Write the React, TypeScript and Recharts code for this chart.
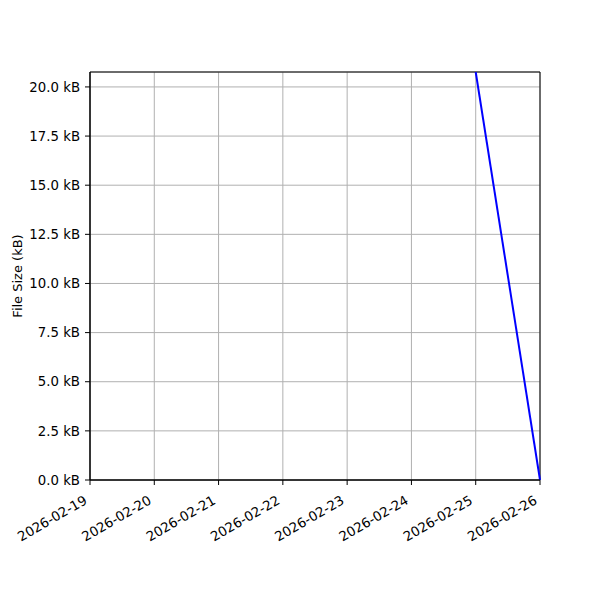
import React from "react";
import { LineChart, Line, XAxis, YAxis, CartesianGrid, ReferenceArea } from "recharts";

const dates = ["2026-02-25", "2026-02-26"];
const sizesKb = [20.76, 0];
const tickDates = [
  "2026-02-19",
  "2026-02-20",
  "2026-02-21",
  "2026-02-22",
  "2026-02-23",
  "2026-02-24",
  "2026-02-25",
  "2026-02-26",
];
const yTicks = [0, 2.5, 5, 7.5, 10, 12.5, 15, 17.5, 20];
const yMax = 20.76;

const toTs = (d: string) => Date.parse(d + "T00:00:00Z");
const data = dates.map((d, i) => ({ t: toTs(d), size: sizesKb[i] }));
const xTicks = tickDates.map(toTs);

const font = "DejaVu Sans, sans-serif";

function DateTick(props: any) {
  const { x, y, payload } = props;
  const label = new Date(payload.value).toISOString().slice(0, 10);
  const ax = x - 2;
  const ay = y + 16;
  return (
    <text
      x={ax}
      y={ay}
      textAnchor="end"
      fontSize={13.3}
      fontFamily={font}
      fill="#000"
      transform={`rotate(-30 ${ax} ${ay})`}
    >
      {label}
    </text>
  );
}

export default function App() {
  return (
    <div style={{ position: "absolute", left: 0, top: 0, width: 600, height: 600, background: "#fff" }}>
      <LineChart width={600} height={600} data={data} margin={{ top: 72, right: 60, bottom: 0, left: 0 }}>
        <CartesianGrid stroke="#b0b0b0" strokeWidth={1} />
        <XAxis
          dataKey="t"
          type="number"
          domain={[xTicks[0], xTicks[xTicks.length - 1]]}
          ticks={xTicks}
          tick={<DateTick />}
          tickLine={{ stroke: "#000" }}
          tickSize={5}
          axisLine={{ stroke: "#000" }}
          interval={0}
          height={120}
        />
        <YAxis
          type="number"
          domain={[0, yMax]}
          ticks={yTicks}
          allowDataOverflow
          width={90}
          tickSize={5}
          tickMargin={5}
          tickLine={{ stroke: "#000" }}
          axisLine={{ stroke: "#000" }}
          tick={{ fontSize: 13.3, fontFamily: font, fill: "#000" }}
          tickFormatter={(v: number) => `${v.toFixed(1)} kB`}
          label={{
            value: "File Size (kB)",
            angle: -90,
            position: "center",
            dx: -28,
            style: { fontSize: 13, fontFamily: font, fill: "#000" },
          }}
        />
        <ReferenceArea
          x1={xTicks[0]}
          x2={xTicks[xTicks.length - 1]}
          y1={0}
          y2={yMax}
          fill="none"
          stroke="#000"
          strokeWidth={1}
          ifOverflow="extendDomain"
        />
        <Line
          type="linear"
          dataKey="size"
          stroke="#0000ff"
          strokeWidth={2}
          dot={false}
          isAnimationActive={false}
        />
      </LineChart>
    </div>
  );
}
